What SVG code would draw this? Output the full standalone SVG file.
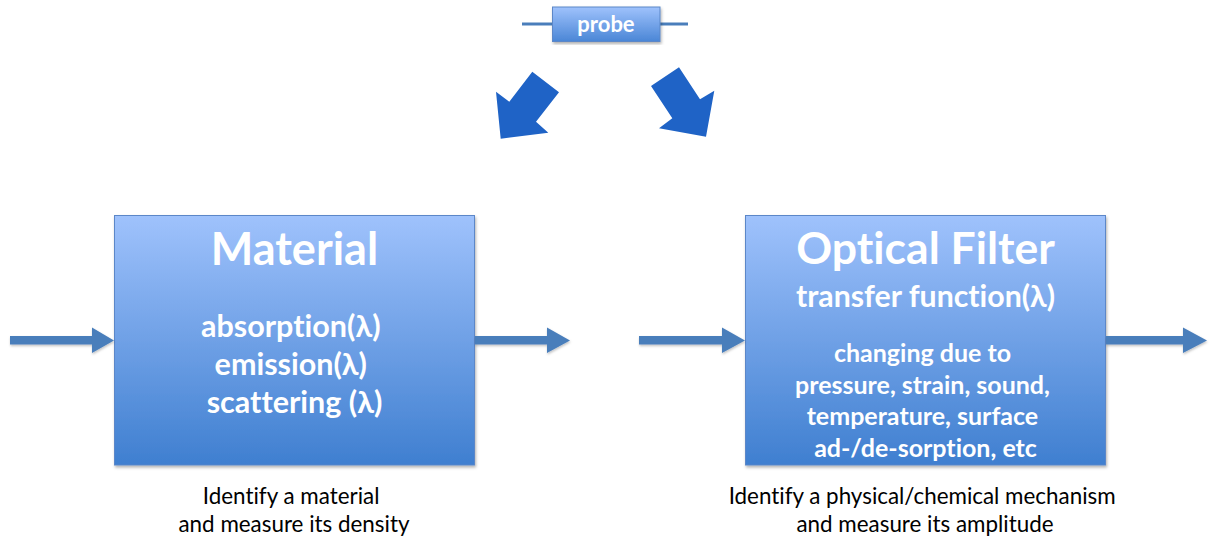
<svg xmlns="http://www.w3.org/2000/svg" width="1210" height="541" viewBox="0 0 1210 541">
  <style>
    .box { stroke: #5b87c8; stroke-width: 1; filter: url(#shadow); }
    .flow { fill: #4a7ebb; filter: url(#soft); }
    .probe-arrow { fill: #1f63c6; }
    text { font-variant-ligatures: none; }
    .title { font-family: Lato, "Liberation Sans", sans-serif; font-weight: bold; fill: #ffffff; text-anchor: middle; }
    .caption { font-family: Lato, "Liberation Sans", sans-serif; fill: #000000; text-anchor: middle; font-size: 22.4px; }
  </style>
  <defs>
    <linearGradient id="boxFill" x1="0" y1="0" x2="0" y2="1">
      <stop offset="0" stop-color="#9fc2fc"/>
      <stop offset="1" stop-color="#3f7fd0"/>
    </linearGradient>
    <linearGradient id="probeFill" x1="0" y1="0" x2="0" y2="1">
      <stop offset="0" stop-color="#9fc2fc"/>
      <stop offset="1" stop-color="#4a86d6"/>
    </linearGradient>
    <filter id="shadow" x="-5%" y="-5%" width="112%" height="115%">
      <feDropShadow dx="1" dy="2" stdDeviation="1.5" flood-color="#000" flood-opacity="0.3"/>
    </filter>
    <filter id="soft" x="-5%" y="-30%" width="110%" height="170%">
      <feDropShadow dx="0.5" dy="1.5" stdDeviation="1" flood-color="#000" flood-opacity="0.25"/>
    </filter>
  </defs>

  <!-- probe source -->
  <g id="probe">
    <line x1="522" y1="24" x2="552" y2="24" stroke="#4a7ebb" stroke-width="3"/>
    <line x1="660" y1="24" x2="688" y2="24" stroke="#4a7ebb" stroke-width="3"/>
    <rect class="box" x="552.5" y="7" width="107.5" height="34.5" fill="url(#probeFill)"/>
    <text class="title" x="606" y="32" font-size="22">probe</text>
  </g>

  <!-- material block -->
  <g id="material">
    <rect class="box" x="114.5" y="215.5" width="360" height="249.5" fill="url(#boxFill)"/>
    <text class="title" x="294.5" y="265" font-size="45">Material</text>
    <text class="title" font-size="30.5">
      <tspan x="294.5" y="337">absorption(λ)</tspan>
      <tspan x="294.5" y="375">emission(λ)</tspan>
      <tspan x="294.5" y="413">scattering (λ)</tspan>
    </text>
  </g>

  <!-- optical filter block -->
  <g id="optical-filter">
    <rect class="box" x="745.5" y="215.5" width="360" height="249.5" fill="url(#boxFill)"/>
    <text class="title" x="925.5" y="264" font-size="44.5">Optical Filter</text>
    <text class="title" x="925.5" y="307" font-size="30.3">transfer function(λ)</text>
    <text class="title" font-size="25">
      <tspan x="925.5" y="362">changing due to</tspan>
      <tspan x="925.5" y="393.5">pressure, strain, sound,</tspan>
      <tspan x="925.5" y="425">temperature, surface</tspan>
      <tspan x="925.5" y="456.5">ad-/de-sorption, etc</tspan>
    </text>
  </g>

  <!-- captions -->
  <g id="material-caption">
    <text class="caption">
      <tspan x="294" y="504">Identify a material</tspan>
      <tspan x="294" y="532">and measure its density</tspan>
    </text>
  </g>
  <g id="filter-caption">
    <text class="caption">
      <tspan x="925" y="504">Identify a physical/chemical mechanism</tspan>
      <tspan x="925" y="532">and measure its amplitude</tspan>
    </text>
  </g>

  <!-- connectors -->
  <g id="connectors">
    <polygon class="flow" points="10,336 92,336 92,327.5 114,340.5 92,353 92,344.5 10,344.5"/>
    <polygon class="flow" points="475,336 547,336 547,327.5 570,340.5 547,353 547,344.5 475,344.5"/>
    <polygon class="flow" points="639,336 722,336 722,327.5 745,340.5 722,353 722,344.5 639,344.5"/>
    <polygon class="flow" points="1106,336 1183,336 1183,327.5 1207,340.5 1183,353 1183,344.5 1106,344.5"/>
    <polygon class="probe-arrow" points="532.3,71.7 559,92.3 536,121.7 548.3,132.7 500.7,138.7 496,91.7 509.3,101.7"/>
    <polygon class="probe-arrow" points="679,67.3 651,86 672.3,118.3 659,128.3 706,136.7 714.3,90.7 700,99.3"/>
  </g>
</svg>
